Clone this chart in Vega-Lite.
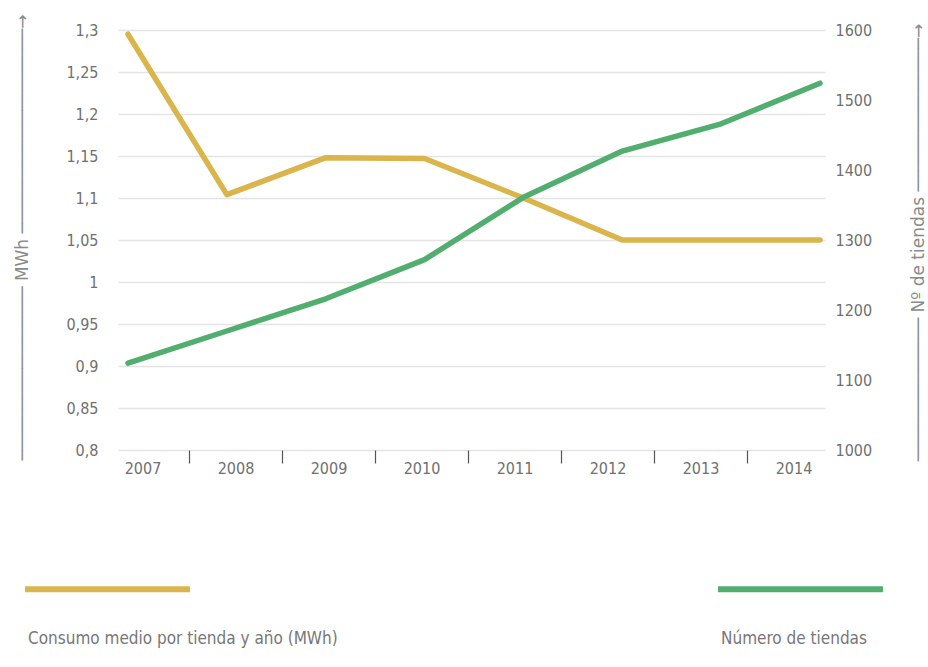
{
  "$schema": "https://vega.github.io/schema/vega-lite/v6.json",
  "width": 707,
  "height": 420,
  "autosize": {"type": "none"},
  "padding": {"left": 118, "top": 30, "right": 103, "bottom": 217},
  "background": "white",
  "config": {
    "view": {"stroke": null},
    "font": "DejaVu Sans Condensed, Roboto, sans-serif",
    "axis": {"labelFont": "DejaVu Sans Condensed, Roboto, sans-serif", "labelColor": "#707070", "labelFontSize": 16, "titleFont": "DejaVu Sans", "titleFontWeight": "normal", "titleColor": "#8a8a8a", "titleFontSize": 17}
  },
  "data": {
    "values": [
      {"year": 2007, "serie": "Consumo medio por tienda y año (MWh)", "valor": 1.295},
      {"year": 2008, "serie": "Consumo medio por tienda y año (MWh)", "valor": 1.104},
      {"year": 2009, "serie": "Consumo medio por tienda y año (MWh)", "valor": 1.148},
      {"year": 2010, "serie": "Consumo medio por tienda y año (MWh)", "valor": 1.147},
      {"year": 2011, "serie": "Consumo medio por tienda y año (MWh)", "valor": 1.100},
      {"year": 2012, "serie": "Consumo medio por tienda y año (MWh)", "valor": 1.050},
      {"year": 2013, "serie": "Consumo medio por tienda y año (MWh)", "valor": 1.050},
      {"year": 2014, "serie": "Consumo medio por tienda y año (MWh)", "valor": 1.050},
      {"year": 2007, "serie": "Número de tiendas", "valor": 1124},
      {"year": 2008, "serie": "Número de tiendas", "valor": 1170},
      {"year": 2009, "serie": "Número de tiendas", "valor": 1216},
      {"year": 2010, "serie": "Número de tiendas", "valor": 1272},
      {"year": 2011, "serie": "Número de tiendas", "valor": 1361},
      {"year": 2012, "serie": "Número de tiendas", "valor": 1427},
      {"year": 2013, "serie": "Número de tiendas", "valor": 1466},
      {"year": 2014, "serie": "Número de tiendas", "valor": 1524}
    ]
  },
  "layer": [
    {
      "transform": [{"filter": "datum.serie !== 'Número de tiendas'"}],
      "mark": {"type": "line", "strokeWidth": 5.5, "strokeCap": "round", "strokeJoin": "round"},
      "encoding": {
        "x": {"field": "year", "type": "quantitative", "scale": {"domain": [2006.8988, 2014.0506], "nice": false, "zero": false}, "axis": null},
        "y": {
          "field": "valor", "type": "quantitative",
          "scale": {"domain": [0.8, 1.3], "nice": false, "zero": false},
          "axis": {
            "orient": "left",
            "values": [0.8, 0.85, 0.9, 0.95, 1, 1.05, 1.1, 1.15, 1.2, 1.25, 1.3],
            "labelExpr": "replace(format(datum.value, '.2~f'), '.', ',')",
            "domain": false, "ticks": false, "grid": true, "gridColor": "#e4e4e4", "gridWidth": 1.5,
            "labelPadding": 20,
            "title": "───────────────── MWh ────────────────────→",
            "titleAngle": -90, "titleX": -96, "titleY": 207, "titleAlign": "center", "titleBaseline": "middle"
          }
        },
        "color": {
          "field": "serie", "type": "nominal",
          "scale": {"domain": ["Consumo medio por tienda y año (MWh)", "Número de tiendas"], "range": ["#d9b54c", "#52ae6e"]},
          "legend": {
            "title": null, "orient": "none", "legendX": -96, "legendY": 523,
            "direction": "horizontal", "columns": 2, "columnPadding": 368,
            "symbolType": "M-1,-0.6L1,-0.6", "symbolSize": 27225, "symbolStrokeWidth": 6,
            "labelFont": "DejaVu Sans Condensed, Roboto, sans-serif", "labelFontSize": 17, "labelColor": "#777777",
            "labelOffset": -165, "labelLimit": 0
          }
        }
      }
    },
    {
      "transform": [{"filter": "datum.serie === 'Número de tiendas'"}],
      "mark": {"type": "line", "strokeWidth": 5.5, "strokeCap": "round", "strokeJoin": "round"},
      "encoding": {
        "x": {"field": "year", "type": "quantitative", "scale": {"domain": [2006.8988, 2014.0506], "nice": false, "zero": false}, "axis": null},
        "y": {
          "field": "valor", "type": "quantitative",
          "scale": {"domain": [1000, 1600], "nice": false, "zero": false},
          "axis": {
            "orient": "right",
            "values": [1000, 1100, 1200, 1300, 1400, 1500, 1600],
            "format": "d",
            "domain": false, "ticks": false, "grid": false,
            "labelPadding": 10,
            "title": "────────────── Nº de tiendas ───────────────→",
            "titleAngle": -90, "titleX": 93, "titleY": 212, "titleAlign": "center", "titleBaseline": "middle"
          }
        },
        "color": {"field": "serie", "type": "nominal"}
      }
    },
    {
      "transform": [{"filter": "datum.serie === 'Número de tiendas'"}],
      "mark": {"type": "text", "text": ""},
      "encoding": {
        "x": {
          "field": "year", "type": "ordinal",
          "scale": {"type": "band", "range": [-21.5, 722.5], "paddingInner": 0, "paddingOuter": 0},
          "axis": {
            "orient": "bottom", "title": null, "domain": false, "grid": false,
            "ticks": true, "bandPosition": 0, "tickSize": 13, "tickColor": "#555", "tickWidth": 1.2,
            "tickOpacity": {"condition": {"test": "datum.value == 2007", "value": 0}, "value": 1},
            "labelPadding": -3, "labelAngle": 0
          }
        }
      }
    }
  ],
  "resolve": {"scale": {"x": "independent", "y": "independent"}}
}
